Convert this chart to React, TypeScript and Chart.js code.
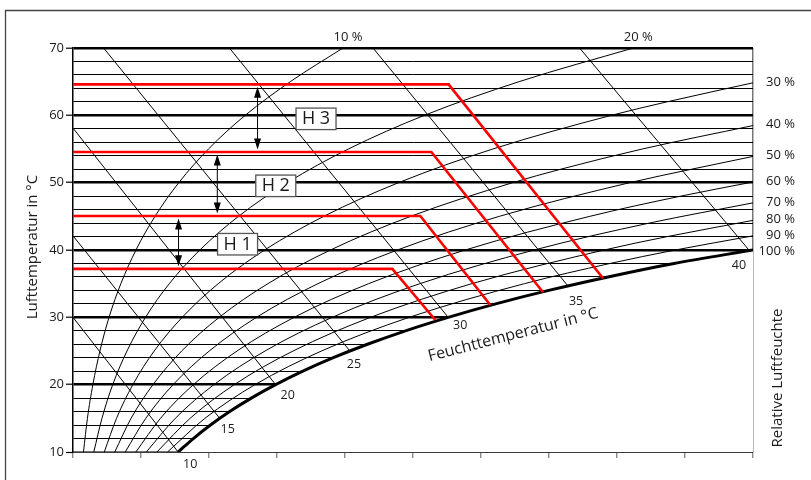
import React, { useEffect, useRef } from 'react';
import { Chart, registerables } from 'chart.js';

Chart.register(...registerables);

// ---------- axis ranges ----------
const xMin = 0;
const xMax = 50;
const xStep = 5;
const yMin = 10;
const yMax = 70;
const yStep = 2;

// ---------- relative humidity curves: [water content, air temperature °C] ----------
const rh10 = [[0.77, 10], [1.06, 15], [1.46, 20], [1.98, 25], [2.65, 30], [3.52, 35], [4.63, 40], [6.03, 45], [7.78, 50], [9.96, 55], [12.66, 60], [15.98, 65], [19.85, 70]];
const rh20 = [[1.53, 10], [2.13, 15], [2.92, 20], [3.97, 25], [5.33, 30], [7.08, 35], [9.33, 40], [12.17, 45], [15.76, 50], [20.25, 55], [25.84, 60], [32.8, 65], [41.2, 70]];
const rh30 = [[2.3, 10], [3.2, 15], [4.4, 20], [5.97, 25], [8.03, 30], [10.68, 35], [14.09, 40], [18.44, 45], [23.94, 50], [30.87, 55], [39.59, 60], [43.67, 62], [50, 64.83]];
const rh40 = [[3.07, 10], [4.27, 15], [5.88, 20], [7.99, 25], [10.75, 30], [14.33, 35], [18.93, 40], [24.83, 45], [32.33, 50], [35.87, 52], [41.86, 55], [50, 58.48]];
const rh50 = [[3.84, 10], [5.35, 15], [7.36, 20], [10.02, 25], [13.49, 30], [18.01, 35], [23.85, 40], [31.35, 45], [40.94, 50], [45.49, 52], [50, 53.9]];
const rh60 = [[4.62, 10], [6.43, 15], [8.85, 20], [12.06, 25], [16.26, 30], [21.74, 35], [28.84, 40], [38.0, 45], [44.69, 48], [50, 50.1]];
const rh70 = [[5.39, 10], [7.52, 15], [10.36, 20], [14.12, 25], [19.06, 30], [25.51, 35], [33.91, 40], [42.38, 44], [50, 47.0]];
const rh80 = [[6.17, 10], [8.61, 15], [11.86, 20], [16.18, 25], [21.88, 30], [29.33, 35], [39.06, 40], [43.72, 42], [50, 44.4]];
const rh90 = [[6.95, 10], [9.7, 15], [13.38, 20], [18.27, 25], [24.72, 30], [33.19, 35], [39.49, 38], [44.29, 40], [50, 42.1]];
// saturation curve (100 %)
const rh100 = [[7.73, 10], [8.85, 12], [10.11, 14], [11.52, 16], [13.11, 18], [14.9, 20], [16.9, 22], [19.14, 24], [21.65, 26], [24.45, 28], [27.59, 30], [31.08, 32], [34.98, 34], [39.34, 36], [44.19, 38], [50, 40]];

const rhCurves = [rh10, rh20, rh30, rh40, rh50, rh60, rh70, rh80, rh90];
const rhNames = ['10 %', '20 %', '30 %', '40 %', '50 %', '60 %', '70 %', '80 %', '90 %'];
const satName = '100 %';

// ---------- wet-bulb (Feuchttemperatur) lines ----------
const wbNames = ['10', '15', '20', '25', '30', '35', '40'];
const wbStart = [[7.73, 10], [10.79, 15], [14.9, 20], [20.36, 25], [27.59, 30], [36.4, 34.65], [49.7, 40]];
const wbEnd = [[0, 30], [0, 42.1], [0, 58.1], [2.25, 70], [11.5, 70], [22.06, 70], [37.25, 70]];

// ---------- red process lines ----------
const red1 = [[0, 37.2], [23.48, 37.2], [26.64, 29.6]];
const red2 = [[0, 45.05], [25.54, 45.05], [30.68, 31.83]];
const red3 = [[0, 54.55], [26.35, 54.55], [34.56, 33.72]];
const red4 = [[0, 64.6], [27.62, 64.6], [38.97, 35.8]];
const redLines = [red1, red2, red3, red4];
const redLevels = [37.2, 45.05, 54.55, 64.6];

// ---------- H markers ----------
const hNames = ['H 1', 'H 2', 'H 3'];
const arrowX = [7.76, 10.61, 13.57];

// ---------- layout / style (not data) ----------
const FONT = '"Open Sans", "Noto Sans", sans-serif';
const TEXT = '#1a1a1a';
const hBoxAnchor = [[12.1, 40.86], [14.91, 49.53], [17.87, 59.48]];
const wbLabelOffset = [[12, 12], [8, 11], [12, 11], [4, 13], [12, 8], [8, 15], [-10, 15]];

const toPts = (arr: number[][]) => arr.map(([x, y]) => ({ x, y }));

const lineDs = (arr: number[][], color: string, width: number, curved: boolean) => ({
  data: toPts(arr),
  borderColor: color,
  borderWidth: width,
  pointRadius: 0,
  fill: false,
  tension: 0,
  cubicInterpolationMode: curved ? 'monotone' : 'default',
});

const overlay = {
  id: 'overlay',
  beforeDraw(chart: any) {
    const { ctx } = chart;
    ctx.save();
    ctx.fillStyle = '#fff';
    ctx.fillRect(0, 0, chart.width, chart.height);
    ctx.strokeStyle = '#444';
    ctx.lineWidth = 1.3;
    ctx.beginPath();
    ctx.moveTo(5.5, chart.height + 5);
    ctx.lineTo(5.5, 10.5);
    ctx.lineTo(chart.width + 5, 10.5);
    ctx.stroke();
    ctx.restore();
  },
  afterDraw(chart: any) {
    const { ctx, chartArea } = chart;
    const xs = chart.scales.x;
    const ys = chart.scales.y;
    const px = (v: number) => xs.getPixelForValue(v);
    const py = (v: number) => ys.getPixelForValue(v);
    ctx.save();

    const text = (t: string, x: number, y: number, size: number, align = 'center', rot = 0) => {
      ctx.save();
      ctx.translate(x, y);
      if (rot) ctx.rotate(rot);
      ctx.font = `${size}px ${FONT}`;
      ctx.fillStyle = TEXT;
      ctx.textAlign = align;
      ctx.textBaseline = 'middle';
      ctx.fillText(t, 0, 0);
      ctx.restore();
    };

    // arrows between red levels
    ctx.strokeStyle = '#000';
    ctx.fillStyle = '#000';
    ctx.lineWidth = 1;
    arrowX.forEach((ax, i) => {
      const x = px(ax);
      const yTop = py(redLevels[i + 1]) + 2.5;
      const yBot = py(redLevels[i]) - 2.5;
      ctx.beginPath();
      ctx.moveTo(x, yTop + 6);
      ctx.lineTo(x, yBot - 6);
      ctx.stroke();
      ctx.beginPath();
      ctx.moveTo(x, yTop);
      ctx.lineTo(x - 3.5, yTop + 11);
      ctx.lineTo(x + 3.5, yTop + 11);
      ctx.closePath();
      ctx.fill();
      ctx.beginPath();
      ctx.moveTo(x, yBot);
      ctx.lineTo(x - 3.5, yBot - 11);
      ctx.lineTo(x + 3.5, yBot - 11);
      ctx.closePath();
      ctx.fill();
    });

    // H boxes
    hNames.forEach((n, i) => {
      const cx = px(hBoxAnchor[i][0]);
      const cy = py(hBoxAnchor[i][1]);
      const w = 40;
      const h = 21.5;
      ctx.fillStyle = '#fff';
      ctx.fillRect(cx - w / 2, cy - h / 2, w, h);
      ctx.strokeStyle = '#555';
      ctx.lineWidth = 1.3;
      ctx.strokeRect(cx - w / 2, cy - h / 2, w, h);
      text(n, cx, cy + 0.5, 18);
    });

    // RH labels
    rhCurves.forEach((c, i) => {
      const last = c[c.length - 1];
      if (last[1] >= yMax) {
        text(rhNames[i], px(last[0]) + 5, py(yMax) - 11, 13);
      } else {
        text(rhNames[i], chartArea.right + 42, py(last[1]) - 1, 13, 'right');
      }
    });
    const sLast = rh100[rh100.length - 1];
    text(satName, chartArea.right + 42, py(sLast[1]) + 1, 13, 'right');

    // wet-bulb labels
    wbNames.forEach((n, i) => {
      text(n, px(wbStart[i][0]) + wbLabelOffset[i][0], py(wbStart[i][1]) + wbLabelOffset[i][1], 12.5);
    });

    // axis titles
    text('Lufttemperatur in °C', 33, 247, 15, 'center', -Math.PI / 2);
    text('Relative Luftfeuchte', 778, 378, 15, 'center', -Math.PI / 2);
    text('Feuchttemperatur in °C', 513, 335, 16, 'center', (-14.5 * Math.PI) / 180);

    ctx.restore();
  },
};

export default function App() {
  const ref = useRef<HTMLCanvasElement>(null);
  useEffect(() => {
    const datasets: any[] = [];
    redLines.forEach((r) => datasets.push(lineDs(r, '#ff0000', 2.6, false)));
    datasets.push(lineDs(rh100, '#000', 3, true));
    rhCurves.forEach((c) => datasets.push(lineDs(c, '#000', 1, true)));
    wbStart.forEach((s, i) => datasets.push(lineDs([wbEnd[i], s].sort((a, b) => a[0] - b[0]), '#000', 1, false)));
    datasets.push({
      data: toPts(rh100),
      borderColor: 'rgba(0,0,0,0)',
      borderWidth: 0,
      pointRadius: 0,
      cubicInterpolationMode: 'monotone',
      fill: 'start',
      backgroundColor: '#fff',
    });

    const chart = new Chart(ref.current as HTMLCanvasElement, {
      type: 'line',
      data: { datasets },
      plugins: [overlay],
      options: {
        responsive: false,
        devicePixelRatio: 1,
        animation: false,
        events: [],
        layout: { padding: { top: 48, right: 58, bottom: 0, left: 0 } },
        plugins: { legend: { display: false }, tooltip: { enabled: false } },
        scales: {
          x: {
            type: 'linear',
            min: xMin,
            max: xMax,
            z: 1,
            ticks: { stepSize: xStep, display: false },
            grid: {
              drawOnChartArea: true,
              color: (c: any) => (c.tick && c.tick.value === xMax ? '#777' : 'rgba(0,0,0,0)'),
              lineWidth: 1.5,
              drawTicks: true,
              tickLength: 6,
              tickColor: '#777',
              tickWidth: 1.2,
            },
            border: { display: true, color: '#777', width: 1.5 },
            afterFit: (s: any) => {
              s.height = 28;
            },
          },
          y: {
            type: 'linear',
            min: yMin,
            max: yMax,
            ticks: {
              stepSize: yStep,
              autoSkip: false,
              callback: (v: any) => (Number(v) % 10 === 0 ? String(v) : ''),
              font: { family: FONT, size: 13 },
              color: TEXT,
              padding: 2,
            },
            grid: {
              color: '#000',
              lineWidth: (c: any) => (c.tick.value === yMin ? 1 : c.tick.value % 10 === 0 ? 2.4 : 1),
              tickColor: (c: any) => (c.tick.value % 10 === 0 ? '#000' : 'rgba(0,0,0,0)'),
              tickLength: 7,
              tickWidth: 1.2,
            },
            border: { display: true, color: '#000', width: 1.5 },
            afterFit: (s: any) => {
              s.width = 73;
            },
          },
        },
      } as any,
    });
    return () => chart.destroy();
  }, []);

  return (
    <div style={{ position: 'fixed', left: 0, top: 0, width: 811, height: 480, background: '#fff' }}>
      <canvas ref={ref} width={811} height={480} style={{ display: 'block', width: 811, height: 480 }} />
    </div>
  );
}
